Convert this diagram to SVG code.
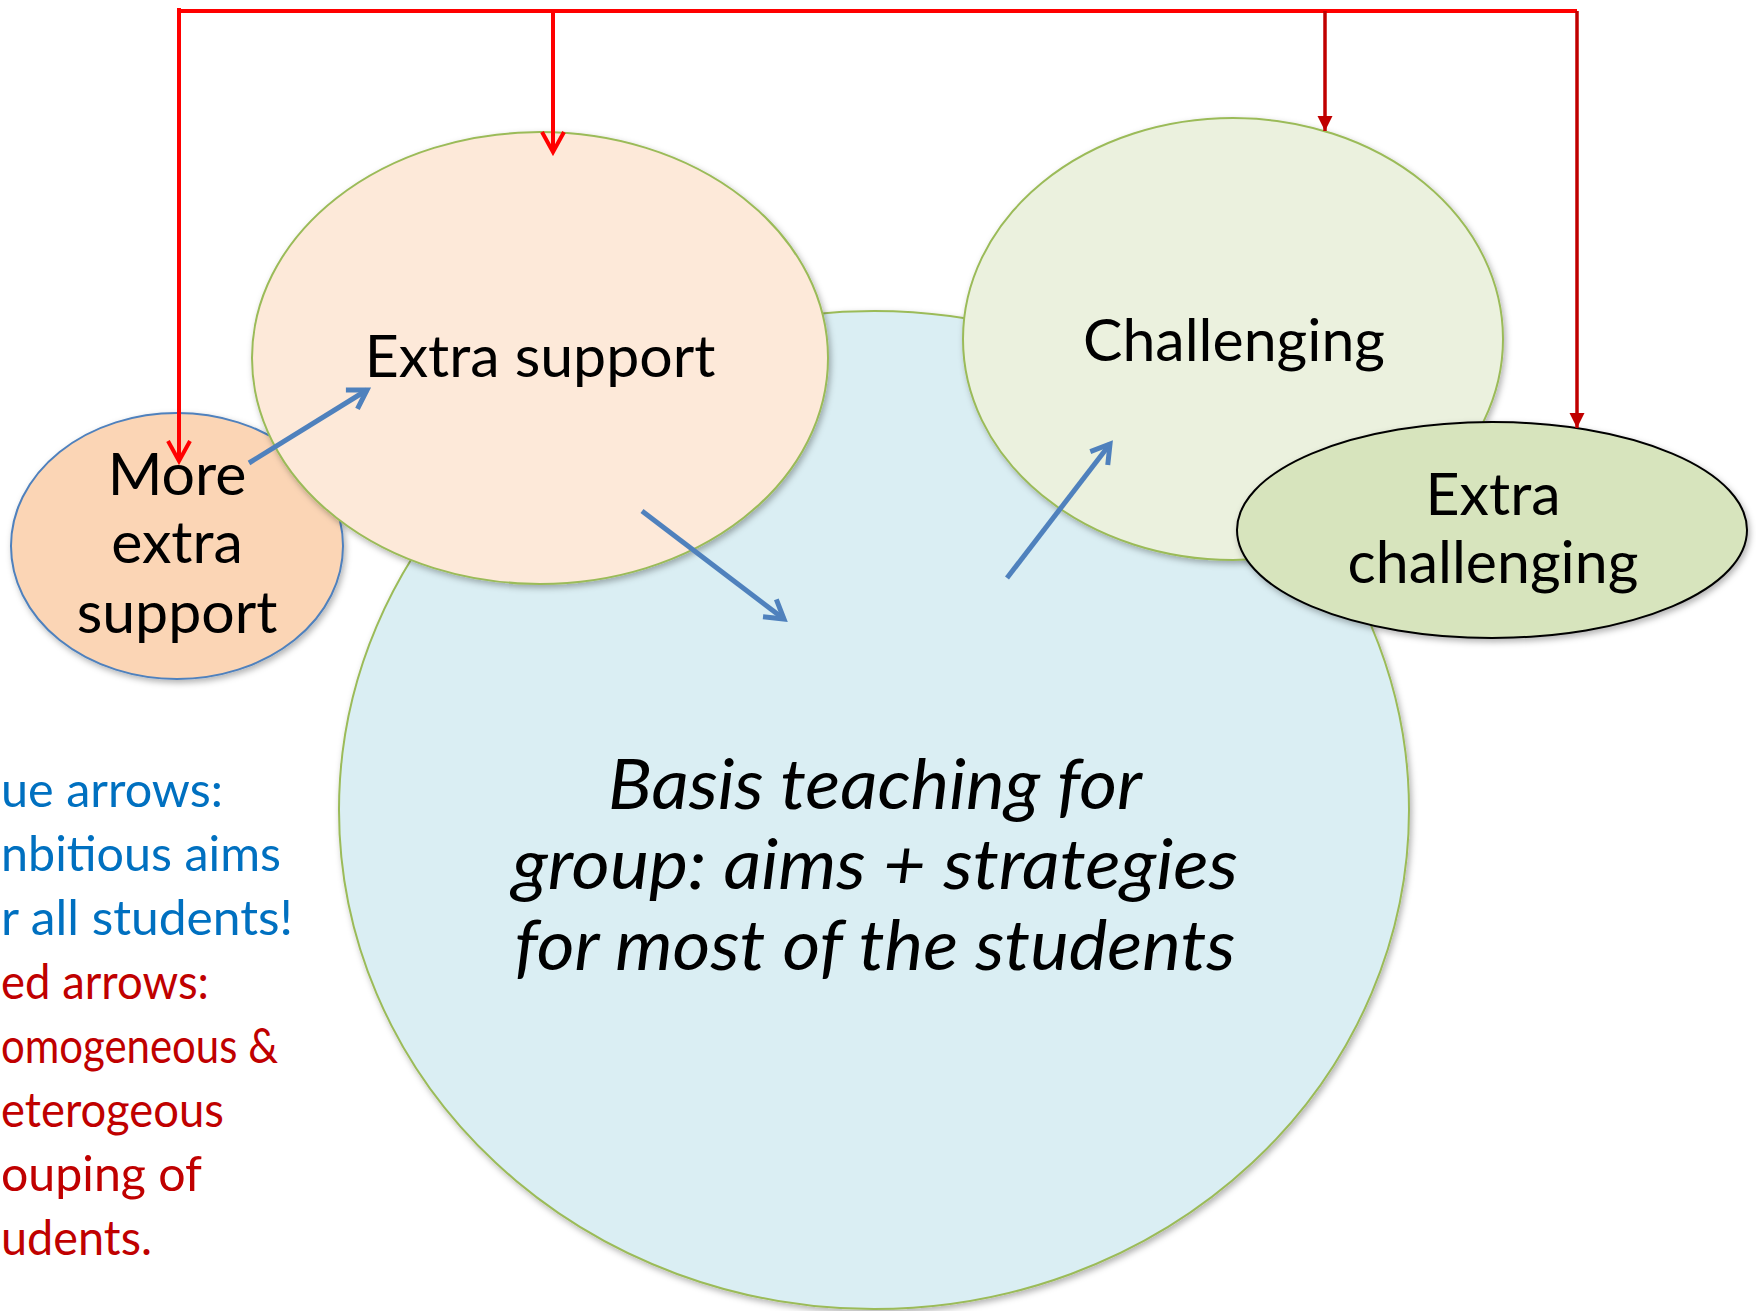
<svg xmlns="http://www.w3.org/2000/svg" width="1756" height="1311" viewBox="0 0 1756 1311">
  <style>
    .node { stroke-width: 2; filter: url(#shadow); }
    .lbl { font-family: Lato, "Liberation Sans", sans-serif; fill: #000000; text-anchor: middle; }
    .big { font-size: 59px; }
    .ital { font-size: 69px; font-style: italic; }
    .leg { font-family: Lato, "Liberation Sans", sans-serif; font-size: 48px; }
    .blue { fill: #0070C0; }
    .red { fill: #C00000; }
    .redline { stroke: #FF0000; stroke-width: 4; fill: none; }
    .darkred { stroke: #C00000; stroke-width: 3.5; fill: none; }
    .bluearrow { stroke: #4F81BD; stroke-width: 5; fill: none; }
  </style>
  <defs>
    <filter id="shadow" x="-10%" y="-10%" width="125%" height="125%">
      <feDropShadow dx="2" dy="3" stdDeviation="3" flood-color="#000000" flood-opacity="0.3"/>
    </filter>
    <marker id="openRed" markerUnits="userSpaceOnUse" markerWidth="26" markerHeight="26" viewBox="0 0 26 26" refX="22" refY="13" orient="auto">
      <path d="M2,2 L22,13 L2,24" fill="none" stroke="#FF0000" stroke-width="4"/>
    </marker>
    <marker id="openBlue" markerUnits="userSpaceOnUse" markerWidth="28" markerHeight="28" viewBox="0 0 28 28" refX="23" refY="14" orient="auto">
      <path d="M5,3 L23,14 L5,25" fill="none" stroke="#4F81BD" stroke-width="5"/>
    </marker>
    <marker id="fillRed" markerUnits="userSpaceOnUse" markerWidth="18" markerHeight="18" viewBox="0 0 18 18" refX="16" refY="9" orient="auto">
      <path d="M1,1.5 L16,9 L1,16.5 Z" fill="#C00000"/>
    </marker>
  </defs>

  <g id="node-basis">
    <ellipse class="node" cx="874" cy="810" rx="535" ry="499" fill="#DAEEF3" stroke="#9BBB59"/>
  </g>
  <g id="node-more-extra-support">
    <ellipse class="node" cx="177" cy="546" rx="166" ry="133" fill="#FBD5B5" stroke="#4F81BD"/>
    <text class="lbl big" x="177" y="495">More</text>
    <text class="lbl big" x="177" y="563">extra</text>
    <text class="lbl big" x="177" y="633">support</text>
  </g>
  <g id="node-extra-support">
    <ellipse class="node" cx="540" cy="358" rx="288" ry="226" fill="#FDE9D9" stroke="#9BBB59"/>
    <text class="lbl big" x="540" y="377">Extra support</text>
  </g>
  <g id="node-challenging">
    <ellipse class="node" cx="1233" cy="339" rx="270" ry="221" fill="#EBF1DE" stroke="#9BBB59"/>
    <text class="lbl big" x="1234" y="361">Challenging</text>
  </g>
  <g id="node-extra-challenging">
    <ellipse class="node" cx="1492" cy="530" rx="255" ry="108" fill="#D7E4BD" stroke="#000000"/>
    <text class="lbl big" x="1493" y="515">Extra</text>
    <text class="lbl big" x="1493" y="583">challenging</text>
  </g>
  <g id="label-basis">
    <text class="lbl ital" x="875" y="809" textLength="534" lengthAdjust="spacingAndGlyphs">Basis teaching for</text>
    <text class="lbl ital" x="875" y="889" textLength="726" lengthAdjust="spacingAndGlyphs">group: aims + strategies</text>
    <text class="lbl ital" x="875" y="970" textLength="721" lengthAdjust="spacingAndGlyphs">for most of the students</text>
  </g>

  <g id="legend">
    <text class="leg blue" x="1" y="807" textLength="222" lengthAdjust="spacingAndGlyphs">ue arrows:</text>
    <text class="leg blue" x="1" y="871" textLength="280" lengthAdjust="spacingAndGlyphs">nbitious aims</text>
    <text class="leg blue" x="1" y="935" textLength="292" lengthAdjust="spacingAndGlyphs">r all students!</text>
    <text class="leg red" x="1" y="999" textLength="208" lengthAdjust="spacingAndGlyphs">ed arrows:</text>
    <text class="leg red" x="1" y="1063" textLength="277" lengthAdjust="spacingAndGlyphs">omogeneous &amp;</text>
    <text class="leg red" x="1" y="1127" textLength="223" lengthAdjust="spacingAndGlyphs">eterogeous</text>
    <text class="leg red" x="1" y="1191" textLength="201" lengthAdjust="spacingAndGlyphs">ouping of</text>
    <text class="leg red" x="1" y="1255" textLength="151" lengthAdjust="spacingAndGlyphs">udents.</text>
  </g>

  <g id="connectors">
    <path class="redline" d="M179,11 H1577"/>
    <path class="redline" d="M179,8 V461" marker-end="url(#openRed)"/>
    <path class="redline" d="M553,11 V152" marker-end="url(#openRed)"/>
    <path class="darkred" d="M1325,11 V131" marker-end="url(#fillRed)"/>
    <path class="darkred" d="M1577,11 V428" marker-end="url(#fillRed)"/>
    <path class="bluearrow" d="M249,463 L367,390" marker-end="url(#openBlue)"/>
    <path class="bluearrow" d="M642,511 L784,619" marker-end="url(#openBlue)"/>
    <path class="bluearrow" d="M1007,578 L1110,444" marker-end="url(#openBlue)"/>
  </g>
</svg>
